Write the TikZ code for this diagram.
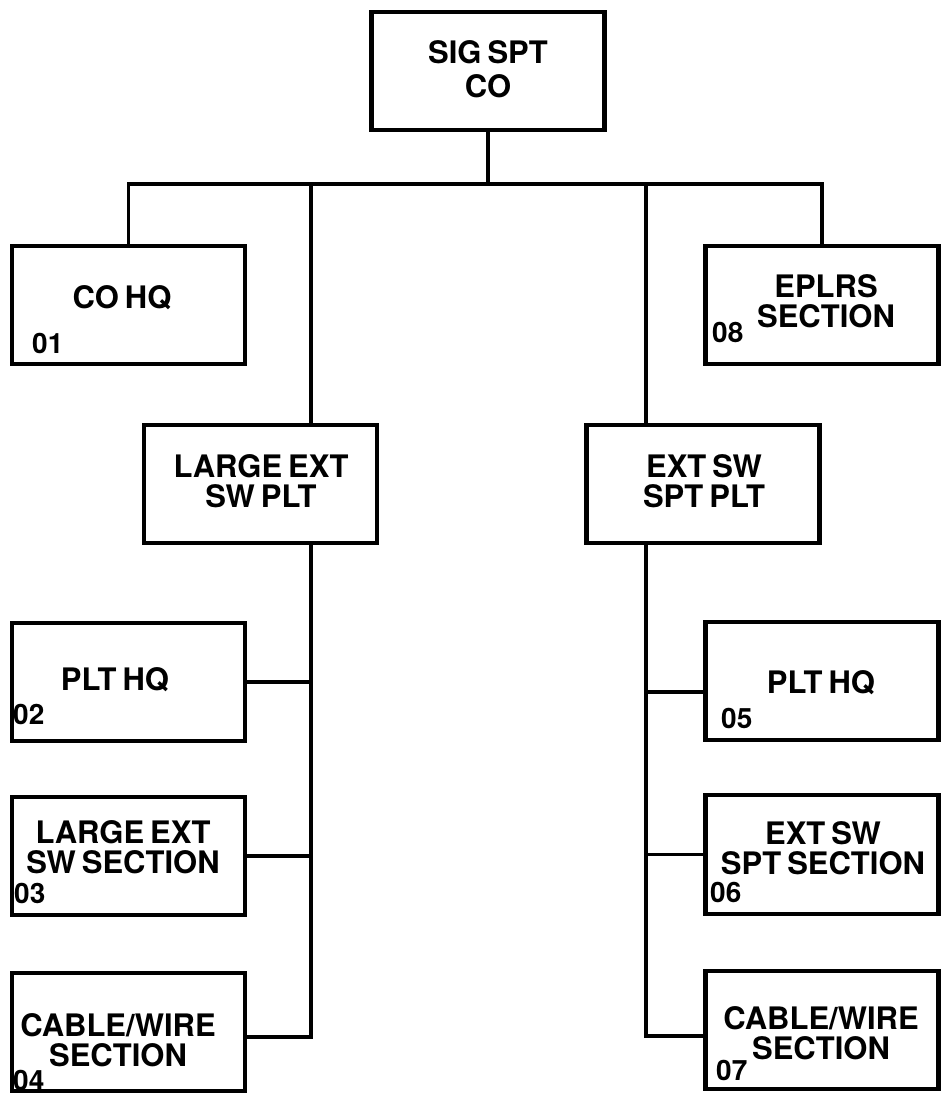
\documentclass[tikz,border=0pt]{standalone}
\usepackage{fontspec}
\setmainfont{TeX Gyre Heros}[WordSpace=0.7]
\usepackage{tikz}
\usetikzlibrary{positioning,calc}
\tikzset{
    every picture/.style={line join=miter},
    unitbox/.style={draw=black,line width=4.4pt,minimum width=233pt,
      minimum height=118.5pt,inner sep=0pt,outer sep=0pt},
    unitname/.style={font=\fontsize{31}{30}\selectfont\bfseries,
      align=center,inner sep=0pt},
    unitnum/.style={font=\fontsize{28}{28}\selectfont\bfseries,
      inner sep=0pt,anchor=base west},
    link/.style={draw=black,line width=3.4pt}
}

\begin{document}
\begin{tikzpicture}[x=1pt,y=-1pt]
  \useasboundingbox (0,0) rectangle (945,1097);
  % company and top row
  \node[unitbox] (co) at (488,71) {};
  \node[unitname] (co-t) at (488,69) {SIG SPT\\[4pt]CO};
  \node[unitbox] (hq) at (128.5,305) {};
  \node[unitname] (hq-t) at (122,298) {CO HQ};
  \node[unitnum] (hq-n) at (32,353) {01};
  \node[unitbox] (eplrs) at (822,305) {};
  \node[unitname] (eplrs-t) at (826,301) {EPLRS\\SECTION};
  \node[unitnum] (eplrs-n) at (712,342) {08};
  % platoons
  \node[unitbox] (lplt) at (260.5,484) {};
  \node[unitname] (lplt-t) at (261,481) {LARGE EXT\\SW PLT};
  \node[unitbox] (rplt) at (703,484) {};
  \node[unitname] (rplt-t) at (704,481) {EXT SW\\SPT PLT};
  % sections, left
  \node[unitbox] (p2) at (128.5,682) {};
  \node[unitname] (p2-t) at (115,680) {PLT HQ};
  \node[unitnum] (p2-n) at (13,724) {02};
  \node[unitbox] (s3) at (128.5,856) {};
  \node[unitname] (s3-t) at (123,847) {LARGE EXT\\SW SECTION};
  \node[unitnum] (s3-n) at (14,903) {03};
  \node[unitbox] (c4) at (128.5,1032) {};
  \node[unitname] (c4-t) at (118,1040) {CABLE/WIRE\\SECTION};
  \node[unitnum] (c4-n) at (13,1090) {04};
  % sections, right
  \node[unitbox] (p5) at (822,681) {};
  \node[unitname] (p5-t) at (821,683) {PLT HQ};
  \node[unitnum] (p5-n) at (721,728) {05};
  \node[unitbox] (s6) at (822,854.5) {};
  \node[unitname] (s6-t) at (823,848) {EXT SW\\SPT SECTION};
  \node[unitnum] (s6-n) at (710,902) {06};
  \node[unitbox] (c7) at (822,1030) {};
  \node[unitname] (c7-t) at (821,1033) {CABLE/WIRE\\SECTION};
  \node[unitnum] (c7-n) at (716,1080) {07};
  % connectors
  \coordinate (bus) at (488,184);
  \coordinate (ltop) at (311,184);
  \coordinate (rtop) at (646,184);
  \coordinate (p5in) at ([yshift=-11pt]p5.west);
  \coordinate (c4in) at ([yshift=-5pt]c4.east);
  \coordinate (c7in) at ([yshift=-6pt]c7.west);
  \draw[link] (co.south) -- (bus);
  \draw[link] (hq.north) -- (hq.north |- bus) -- (eplrs.north |- bus) -- (eplrs.north);
  \draw[link] (ltop) -- (ltop |- lplt.north);
  \draw[link] (rtop) -- (rtop |- rplt.north);
  \draw[link] (ltop |- lplt.south) -- (c4in -| ltop) -- (c4in);
  \draw[link] (p2.east) -- (p2.east -| ltop);
  \draw[link] (s3.east) -- (s3.east -| ltop);
  \draw[link] (rtop |- rplt.south) -- (c7in -| rtop) -- (c7in);
  \draw[link] (p5in) -- (p5in -| rtop);
  \draw[link] (s6.west) -- (s6.west -| rtop);
\end{tikzpicture}
\end{document}
